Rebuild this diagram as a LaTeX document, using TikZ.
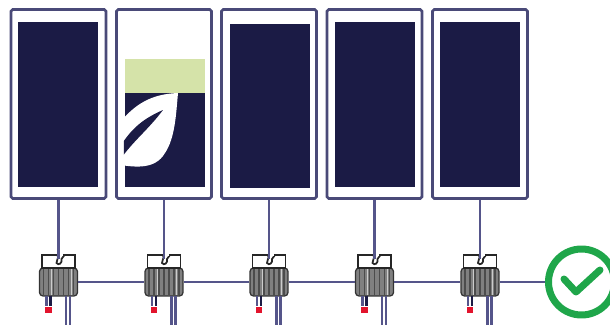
\documentclass[tikz,border=0pt]{standalone}
\definecolor{navy}{HTML}{1B1B45}
\definecolor{framec}{HTML}{4A4A78}
\definecolor{wirec}{HTML}{55558A}
\definecolor{leafbar}{HTML}{D5E3A9}
\definecolor{tipred}{HTML}{E2142D}
\definecolor{okgreen}{HTML}{1FA64A}
\begin{document}
\begin{tikzpicture}[
  x=0.02cm, y=-0.02cm,
  panel/.style={draw=framec, line width=0.055cm, rounded corners=1pt, fill=white, minimum width=1.9cm, minimum height=3.78cm, inner sep=0pt},
  cell/.style={fill=navy, minimum width=1.62cm, minimum height=3.3cm, inner sep=0pt},
  invbody/.style={draw=black!80, line width=0.025cm, rounded corners=2pt, fill=black!50, minimum width=0.76cm, minimum height=0.56cm, inner sep=0pt},
  invcap/.style={draw=black!85, line width=0.035cm, fill=white, minimum width=0.66cm, minimum height=0.26cm, inner sep=0pt},
  wire/.style={draw=wirec, line width=0.045cm},
  tip/.style={fill=tipred, minimum width=0.14cm, minimum height=0.12cm, inner sep=0pt}
]
\clip (0,0) rectangle (610,325);

% Panels
\foreach \i/\px/\qx/\cy in {1/58.5/58/104.5, 2/164/165/104.5, 3/269/270/106, 4/374.5/375/104.5, 5/480/480/104.5} {
  \node[panel] (panel\i) at (\px, 104) {};
  \node[cell] (cell\i) at (\qx, \cy) {};
}

% Panel 2: white top, bar and leaf
\fill[white] (122,20) rectangle (207,59);
\node[fill=leafbar, minimum width=1.62cm, minimum height=0.68cm, inner sep=0pt] (bar) at (165,76) {};
\begin{scope}
  \clip (124,93) rectangle (206,187);
  \fill[white] (178,93) .. controls (150,94) and (135,105) .. (120,122) -- (120,165)
    .. controls (135,167) and (155,170) .. (165,153) .. controls (175,138) and (176,115) .. (178,93) -- cycle;
  \fill[navy] (163,110) .. controls (145,118) and (132,127) .. (120,147) -- (120,160)
    .. controls (132,142) and (148,130) .. (163,110) -- cycle;
\end{scope}

% Inverters
\foreach \i/\px in {1/58.5, 2/164, 3/269, 4/374.5, 5/480} {
  \node[invbody] (inv\i) at (\px, 282) {};
  \foreach \dx in {-15,-10,-5,0,5,10,15}
    \draw[black!70, line width=0.035cm] (\px+\dx, 269) -- (\px+\dx, 295);
  \draw[white!80!black, line width=0.02cm] (\px-6.5, 269) -- (\px-6.5, 295);
  \draw[white!80!black, line width=0.02cm] (\px+13, 269) -- (\px+13, 295);
  \node[invcap] (cap\i) at (\px, 261.5) {};
  \draw[black!85, line width=0.035cm, fill=white] (\px-1, 255) .. controls (\px+1, 259) and (\px-3, 260) .. (\px-2, 263)
    .. controls (\px, 266) and (\px+4, 263) .. (\px+3, 259) -- (\px+6, 255);
  \draw[white, line width=0.05cm] (\px, 255) -- (\px+5, 255);
  \coordinate (notch\i) at (\px, 259);
  % leads
  \coordinate (leadA\i) at (\px-12, 306);
  \coordinate (leadB\i) at (\px-8, 306);
  \coordinate (leadC\i) at (\px+7.5, 325);
  \coordinate (leadD\i) at (\px+11.5, 325);
  \draw[wire] (\px-12, 296) -- (leadA\i);
  \draw[navy, line width=0.045cm] (\px-8, 296) -- (leadB\i);
  \draw[wire] (\px+7.5, 296) -- (leadC\i);
  \draw[wire] (\px+11.5, 296) -- (leadD\i);
  \node[tip] (tip\i) at (\px-10, 310) {};
  % stem
  \draw[wire] (panel\i.south) -- (notch\i);
}

% Check mark
\node[circle, draw=okgreen, line width=0.14cm, fill=white, minimum size=1.32cm, inner sep=0pt] (check) at (581.5, 282) {};
\draw[okgreen, line width=0.14cm, line cap=round, line join=round] (564,279) -- (576,292) -- (600,270);

% Bus
\foreach \a/\b in {inv1/inv2, inv2/inv3, inv3/inv4, inv4/inv5, inv5/check}
  \draw[wire] (\a.east) -- (\b.west);

\end{tikzpicture}
\end{document}
